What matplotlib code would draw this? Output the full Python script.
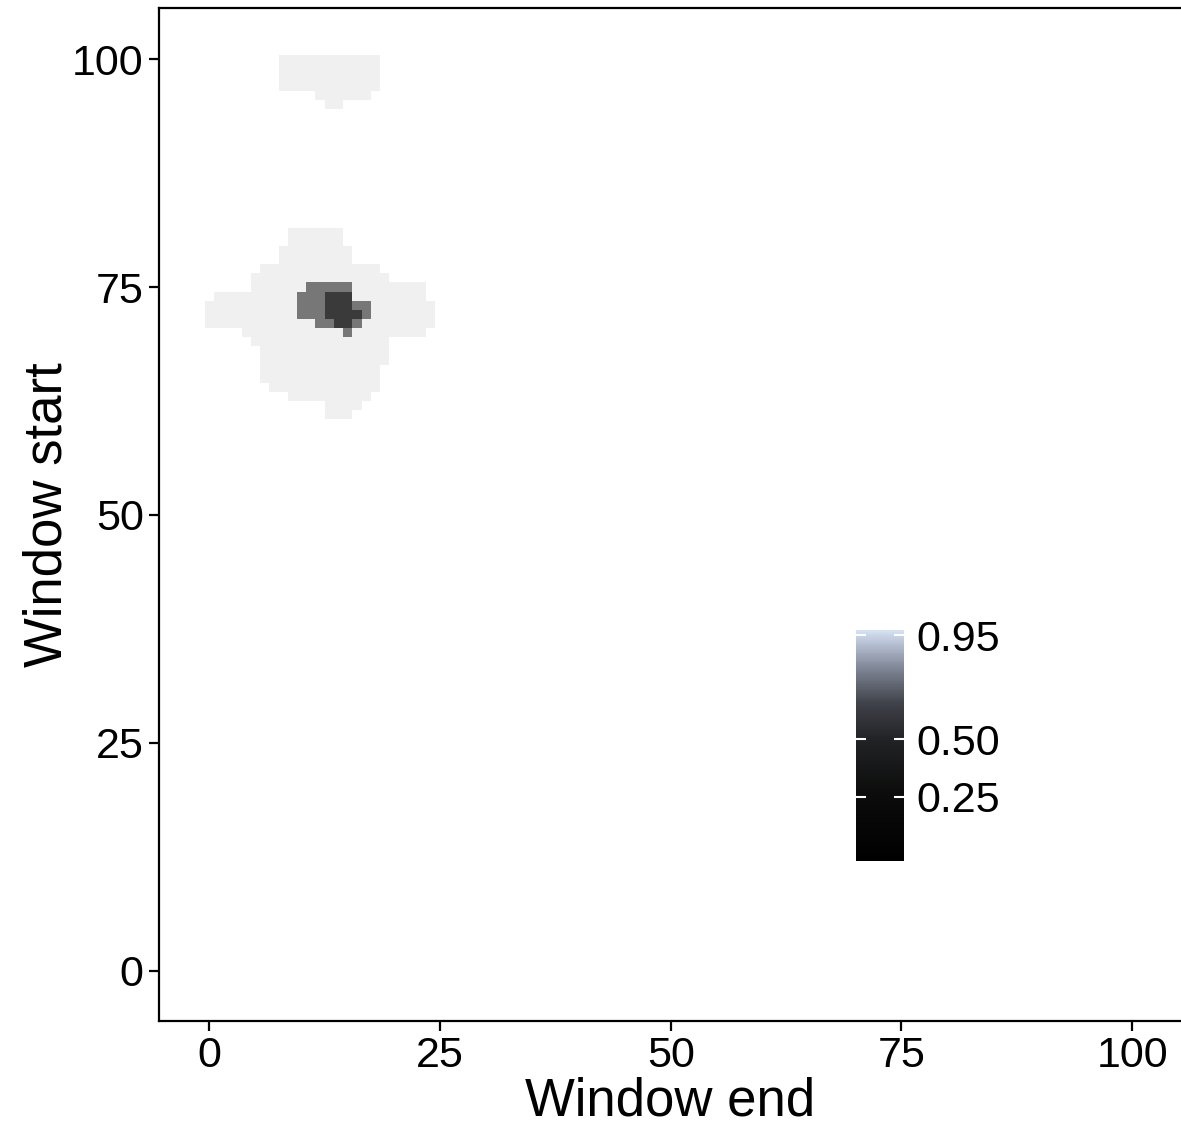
import numpy as np
import matplotlib
matplotlib.use("Agg")
import matplotlib.pyplot as plt
from matplotlib.colors import ListedColormap, BoundaryNorm, LinearSegmentedColormap, Normalize
import matplotlib.cm as cm

plt.rcParams['font.family'] = ['Liberation Sans', 'DejaVu Sans']

# ---- data: row (window start) -> spans of window end, per level ----
light_spans = [
    (100, 8, 18), (99, 8, 18), (98, 8, 18), (97, 8, 18),
    (96, 12, 17), (95, 13, 14),
    (81, 9, 14), (80, 9, 14), (79, 8, 15), (78, 8, 15),
    (77, 6, 18), (76, 5, 19), (75, 5, 23), (74, 1, 23),
    (73, 0, 24), (72, 0, 24), (71, 0, 24), (70, 4, 23),
    (69, 5, 19), (68, 6, 19), (67, 6, 19), (66, 6, 18),
    (65, 6, 18), (64, 7, 18), (63, 9, 17), (62, 13, 16),
    (61, 13, 15),
]
medium_spans = [
    (75, 11, 15), (74, 10, 12), (73, 10, 12), (73, 16, 17),
    (72, 10, 12), (72, 17, 17), (71, 12, 13), (71, 16, 16),
    (70, 15, 15),
]
dark_spans = [
    (74, 13, 15), (73, 13, 15), (72, 13, 16), (71, 14, 15),
]
level_colors = ['#F0F0F0', '#777777', '#3A3A3A']

cbar_ticks = [0.25, 0.50, 0.95]
cbar_labels = ['0.25', '0.50', '0.95']
cbar_range = (-0.027, 0.972)
cbar_nodes = [(0.0, '#000000'), (0.28, '#0b0b0b'), (0.53, '#222326'),
              (0.68, '#3e4148'), (0.83, '#7c8392'), (1.0, '#d4e0f4')]

# ---- build grid ----
N = 101
grid = np.full((N, N), np.nan)
for lvl, spans in enumerate([light_spans, medium_spans, dark_spans]):
    for r, c0, c1 in spans:
        grid[r, c0:c1 + 1] = lvl

fig = plt.figure(figsize=(11.81, 11.26), dpi=100)
ax = fig.add_axes([159 / 1181, 105 / 1126, 1 - 159 / 1181, (1021 - 8) / 1126])

edges = np.arange(N + 1) - 0.5
cmap = ListedColormap(level_colors)
norm = BoundaryNorm([-0.5, 0.5, 1.5, 2.5], cmap.N)
ax.pcolormesh(edges, edges, np.ma.masked_invalid(grid), cmap=cmap, norm=norm,
              shading='flat', edgecolors='none', antialiased=False)

ax.set_xlim(-5.45, 105.3)
ax.set_ylim(-5.5, 105.6)
ax.set_xticks([0, 25, 50, 75, 100])
ax.set_yticks([0, 25, 50, 75, 100])
ax.tick_params(axis='both', labelsize=31, length=7, width=1.6, color='black',
               labelcolor='black', pad=4)
for s in ['left', 'bottom', 'top']:
    ax.spines[s].set_linewidth(1.6)
    ax.spines[s].set_color('black')
ax.spines['right'].set_visible(False)
ax.set_xlabel('Window end', fontsize=38, labelpad=0)
ax.set_ylabel('Window start', fontsize=38, labelpad=0)

# ---- colorbar ----
cax = fig.add_axes([856 / 1181, (1126 - 861) / 1126, 48 / 1181, 231 / 1126])
gcmap = LinearSegmentedColormap.from_list('g', cbar_nodes)
sm = cm.ScalarMappable(norm=Normalize(*cbar_range), cmap=gcmap)
cb = fig.colorbar(sm, cax=cax, ticks=cbar_ticks)
cb.set_ticklabels(cbar_labels)
cb.outline.set_visible(False)
cax.tick_params(axis='y', direction='in', length=7, width=1.5, color='white',
                left=True, right=True, labelsize=31, pad=9)

fig.savefig('out.png', dpi=100, facecolor='white')
